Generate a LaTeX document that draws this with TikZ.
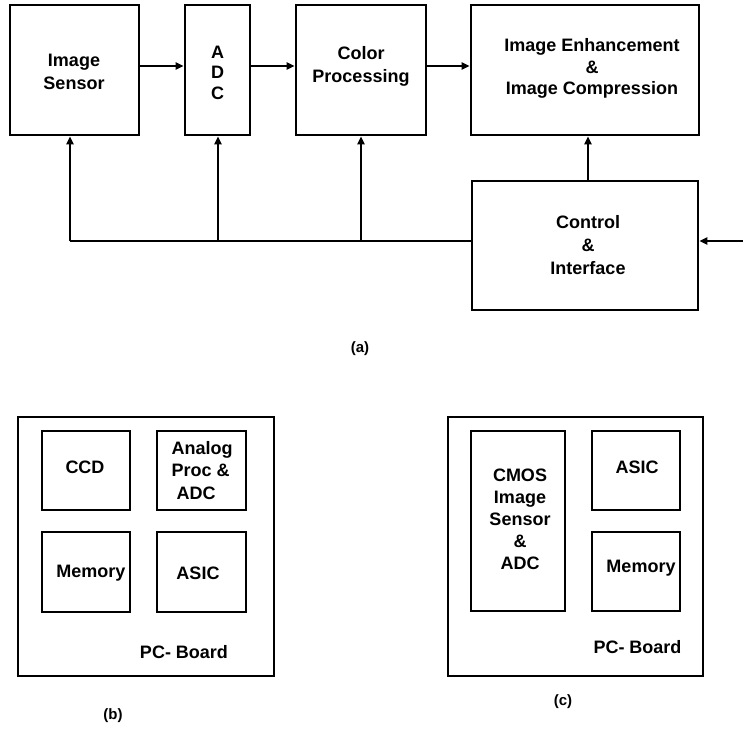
\documentclass[tikz,border=0pt]{standalone}
\usepackage{fontspec}
\setmainfont{Liberation Sans}
\usetikzlibrary{arrows.meta,calc}

\begin{document}
\begin{tikzpicture}[x=1pt,y=-1pt,
  box/.style={draw,line width=2.7pt,inner sep=0pt},
  txt/.style={font=\fontsize{18}{23}\selectfont\bfseries,align=center,inner sep=0pt},
  sublabel/.style={font=\fontsize{15}{18}\selectfont\bfseries,inner sep=0pt},
  wire/.style={line width=2.5pt},
  arr/.style={wire,-{Triangle[length=8pt,width=7pt]}}]
\useasboundingbox (0,0) rectangle (743,744);

% ---------- (a) signal chain ----------
\node[box,minimum width=129pt,minimum height=130pt] (sensor) at (74.5,70) {};
\node[box,minimum width=65pt,minimum height=130pt]  (adc)    at (217.5,70) {};
\node[box,minimum width=130pt,minimum height=130pt] (cp)     at (361,70) {};
\node[box,minimum width=228pt,minimum height=130pt] (ie)     at (585,70) {};
\node[box,minimum width=226pt,minimum height=129pt] (ctrl)   at (585,245.5) {};

\node[txt] (tsensor) at (74,71.5) {Image\\Sensor};
\node[txt,font=\fontsize{18}{20.5}\selectfont\bfseries] (tadc) at (217.5,72.5) {A\\D\\C};
\node[txt] (tcp) at (361,66.5) {Color\\Processing};
\node[txt,font=\fontsize{18}{21.5}\selectfont\bfseries] (tie) at (592,68.5) {Image Enhancement\\\&\\Image Compression};
\node[txt] (tctrl) at (588,245) {Control\\\&\\Interface};

% forward path
\draw[arr] ([yshift=4pt]sensor.east) -- ([yshift=4pt]adc.west);
\draw[arr] ([yshift=4pt]adc.east) -- ([yshift=4pt]cp.west);
\draw[arr] ([yshift=4pt]cp.east) -- ([yshift=4pt]ie.west);

% control bus
\coordinate (j1) at (70,241);
\coordinate (j2) at (218,241);
\coordinate (j3) at (361,241);
\coordinate (ext) at (743,241);
\draw[wire] (j1 -| ctrl.west) -- (j1);
\draw[arr] (j1) -- (j1 |- sensor.south);
\draw[arr] (j2) -- (j2 |- adc.south);
\draw[arr] (j3) -- (j3 |- cp.south);
\draw[arr] ([xshift=3pt]ctrl.north) -- ([xshift=3pt]ie.south);
\draw[arr] (ext) -- (ext -| ctrl.east);

\node[sublabel] (la) at (360,349) {(a)};

% ---------- (b) CCD board ----------
\node[box,minimum width=256pt,minimum height=259pt] (pcb1) at (146,546.5) {};
\node[box,minimum width=88pt,minimum height=79pt] (ccd)   at (86,470.5) {};
\node[box,minimum width=89pt,minimum height=79pt] (apa)   at (201.5,470.5) {};
\node[box,minimum width=88pt,minimum height=80pt] (mem1)  at (86,572) {};
\node[box,minimum width=89pt,minimum height=80pt] (asic1) at (201.5,572) {};

\node[txt] (tccd) at (85,467) {CCD};
\node[txt,align=left,anchor=west,font=\fontsize{18}{22.5}\selectfont\bfseries] (tapa) at (171.5,470.5) {Analog\\Proc \&\\\hspace*{5pt}ADC};
\node[txt] (tmem1) at (91,573) {Memory};
\node[txt] (tasic1) at (198,573) {ASIC};
\node[txt] (tpcb1) at (184,652) {PC- Board};

\node[sublabel] (lb) at (113,716) {(b)};

% ---------- (c) CMOS board ----------
\node[box,minimum width=255pt,minimum height=259pt] (pcb2) at (575.5,546.5) {};
\node[box,minimum width=94pt,minimum height=180pt] (cmos)  at (518,521) {};
\node[box,minimum width=88pt,minimum height=79pt]  (asic2) at (636,470.5) {};
\node[box,minimum width=88pt,minimum height=79pt]  (mem2)  at (636,571.5) {};

\node[txt,font=\fontsize{18}{22}\selectfont\bfseries] (tcmos) at (520,519.5) {CMOS\\Image\\Sensor\\\&\\ADC};
\node[txt] (tasic2) at (637,467) {ASIC};
\node[txt] (tmem2) at (641,568) {Memory};
\node[txt] (tpcb2) at (637.5,647) {PC- Board};

\node[sublabel] (lc) at (563,702) {(c)};
\end{tikzpicture}
\end{document}
